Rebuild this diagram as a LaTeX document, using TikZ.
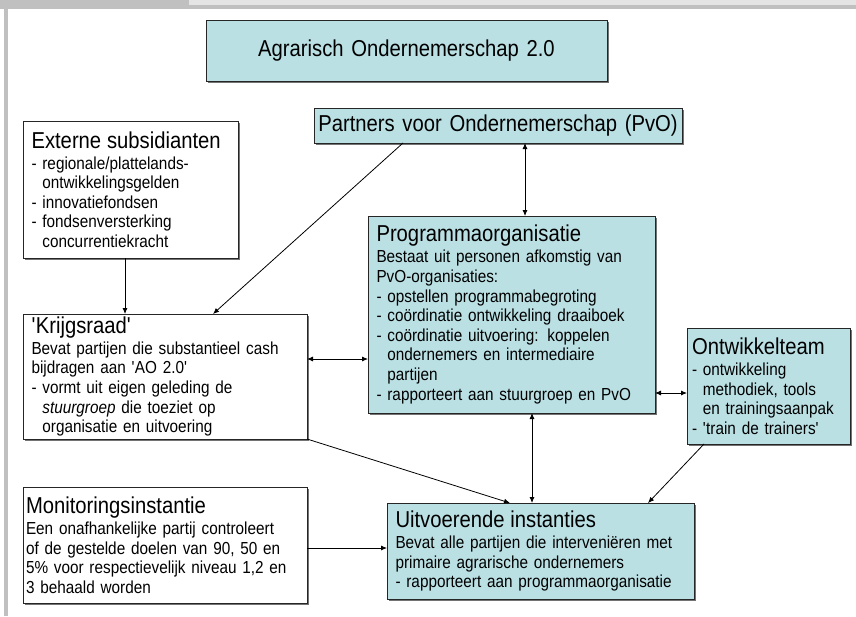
\documentclass[tikz,border=0pt]{standalone}
\usepackage{fontspec}
\setmainfont[FakeStretch=0.88]{Liberation Sans}
\usetikzlibrary{arrows.meta,shadows}
\definecolor{kaderblauw}{RGB}{186,224,228}
\definecolor{randgrijs}{RGB}{192,192,192}
\definecolor{lichtgrijs}{RGB}{228,228,228}
\newcommand\kop[1]{{\fontsize{23}{26}\selectfont #1}\\[1.5pt]}
\newcommand\insp{\hphantom{-}\ }

\begin{document}
\begin{tikzpicture}[x=1pt,y=-1pt,
    vak/.style={draw=black!85,line width=0.9pt,anchor=north west,align=left,
      inner xsep=8.5pt,inner ysep=0pt,outer sep=0pt,
      font=\fontsize{17.4}{19.6}\selectfont,
      execute at begin node={\hyphenpenalty=10000},
      drop shadow={shadow xshift=1.6pt,shadow yshift=-1.6pt,fill=black!55,opacity=1}},
    blauw/.style={vak,fill=kaderblauw},
    wit/.style={vak,fill=white},
    pijl/.style={-{Latex[length=6pt,width=5pt]},line width=0.8pt},
    dubbel/.style={{Latex[length=6pt,width=5pt]}-{Latex[length=6pt,width=5pt]},line width=0.8pt}]
    \useasboundingbox (0,0) rectangle (856,616);

    % 边框
    \fill[randgrijs] (0,0) rectangle (189,9);
    \fill[lichtgrijs] (189,0) rectangle (856,5);
    \fill[randgrijs] (189,5) rectangle (856,9);
    \fill[randgrijs] (4,0) rectangle (8,616);

    % 方框
    \node[blauw,align=center,inner xsep=4pt,minimum width=401pt,minimum height=61pt,text width=393pt,
      font=\fontsize{23}{26}\selectfont] (titel) at (206,20) {Agrarisch Ondernemerschap 2.0};
    \node[blauw,align=center,inner xsep=3pt,minimum width=368pt,minimum height=35pt,text width=362pt,
      font=\fontsize{23}{26}\selectfont] (pvo) at (314,108) {Partners voor Ondernemerschap (PvO)};
    \node[wit,minimum width=215pt,minimum height=137pt,text width=198pt] (ext) at (23,121) {%
      \kop{Externe subsidianten}
      - regionale/plattelands-\\
      \insp ontwikkelingsgelden\\
      - innovatiefondsen\\
      - fondsenversterking\\
      \insp concurrentiekracht};
    \node[blauw,minimum width=287pt,minimum height=197pt,text width=270pt] (prog) at (368,216) {%
      \kop{Programmaorganisatie}
      Bestaat uit personen afkomstig van\\
      PvO-organisaties:\\
      - opstellen programmabegroting\\
      - coördinatie ontwikkeling draaiboek\\
      - coördinatie uitvoering: koppelen\\
      \insp ondernemers en intermediaire\\
      \insp partijen\\
      - rapporteert aan stuurgroep en PvO};
    \node[wit,minimum width=284pt,minimum height=125pt,text width=267pt] (kr) at (23,314) {%
      \kop{\textquotesingle Krijgsraad\textquotesingle}
      Bevat partijen die substantieel cash\\
      bijdragen aan \textquotesingle AO 2.0\textquotesingle\\
      - vormt uit eigen geleding de\\
      \insp\textit{stuurgroep} die toeziet op\\
      \insp organisatie en uitvoering};
    \node[blauw,inner xsep=5pt,minimum width=163pt,minimum height=116pt,text width=153pt] (ont) at (687,328) {%
      \kop{Ontwikkelteam}
      - ontwikkeling\\
      \insp methodiek, tools\\
      \insp en trainingsaanpak\\
      - \textquotesingle train de trainers\textquotesingle};
    \node[wit,inner xsep=3pt,minimum width=284pt,minimum height=116pt,text width=278pt] (mon) at (23,487) {%
      \kop{Monitoringsinstantie}
      Een onafhankelijke partij controleert\\
      of de gestelde doelen van 90, 50 en\\
      5\% voor respectievelijk niveau 1,2 en\\
      3 behaald worden};
    \node[blauw,minimum width=307pt,minimum height=96pt,text width=290pt] (uitv) at (387,503) {%
      \kop{Uitvoerende instanties}
      Bevat alle partijen die interveniëren met\\
      primaire agrarische ondernemers\\
      - rapporteert aan programmaorganisatie};

    % 箭头
    \draw[pijl] ([xshift=-5.5pt]ext.south) coordinate (e1) -- (e1 |- kr.north);
    \draw[pijl] ([xshift=89pt]pvo.south west) -- ([xshift=48pt]kr.north);
    \draw[dubbel] ([xshift=27pt]pvo.south) coordinate (p1) -- (p1 |- prog.north);
    \draw[dubbel] ([yshift=17.5pt]kr.east) coordinate (k1) -- (k1 -| prog.west);
    \draw[dubbel] ([yshift=-7pt]ont.west) coordinate (o1) -- (o1 -| prog.east);
    \draw[dubbel] ([xshift=20.5pt]prog.south) coordinate (p2) -- (p2 |- uitv.north);
    \draw[pijl] (kr.south east) -- ([xshift=-30.5pt]uitv.north);
    \draw[pijl] ([xshift=-64.5pt]ont.south) -- ([xshift=107.5pt]uitv.north);
    \draw[pijl] ([yshift=-3pt]mon.east) coordinate (m1) -- (m1 -| uitv.west);
\end{tikzpicture}
\end{document}
